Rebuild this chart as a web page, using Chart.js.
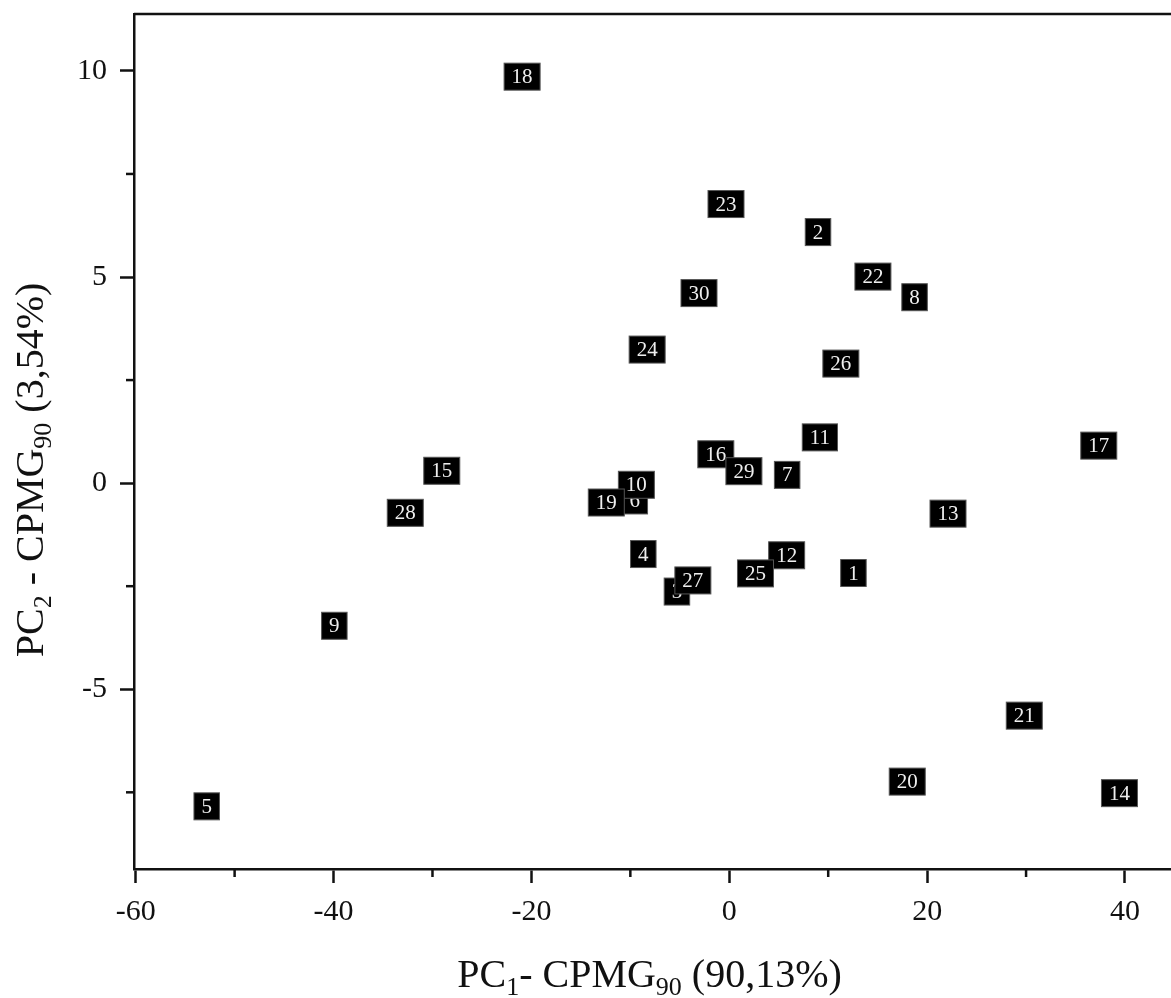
<!DOCTYPE html>
<html>
<head>
<meta charset="utf-8">
<script src="https://cdn.jsdelivr.net/npm/chart.js@4.4.1/dist/chart.umd.min.js"></script>
<style>
  html, body { margin: 0; padding: 0; background: #fff; overflow: hidden; }
  #wrap { width: 1171px; height: 998px; position: relative; }
</style>
</head>
<body>
<div id="wrap"><canvas id="pcaChart"></canvas></div>
<script>
// sample numbers and their PC1 / PC2 scores
const sampleIds = [1, 2, 3, 4, 5, 6, 7, 8, 9, 10, 11, 12, 13, 14, 15,
                   16, 17, 18, 19, 20, 21, 22, 23, 24, 25, 26, 27, 28, 29, 30];
const pc1Scores = [12.55, 8.97, -5.29, -8.69, -52.82, -9.55, 5.85, 18.73, -39.92, -9.39,
                   9.16, 5.80, 22.11, 39.44, -29.06, -1.36, 37.35, -20.94, -12.43, 17.99,
                   29.82, 14.52, -0.33, -8.30, 2.65, 11.28, -3.68, -32.75, 1.48, -3.06];
const pc2Scores = [-2.18, 6.09, -2.63, -1.72, -7.84, -0.42, 0.20, 4.51, -3.46, -0.04,
                   1.11, -1.75, -0.74, -7.52, 0.30, 0.70, 0.91, 9.86, -0.47, -7.24,
                   -5.64, 5.01, 6.77, 3.24, -2.19, 2.90, -2.36, -0.72, 0.29, 4.61];

const xTickValues = [-60, -50, -40, -30, -20, -10, 0, 10, 20, 30, 40];
const yTickValues = [-7.5, -5, -2.5, 0, 2.5, 5, 7.5, 10];
const xMajorStep = 20;
const yMajorStep = 5;

const serif = '"Liberation Serif", "Times New Roman", serif';

const points = sampleIds.map((id, i) => ({ x: pc1Scores[i], y: pc2Scores[i] }));

function isMajor(v, step) {
    return Math.abs(v / step - Math.round(v / step)) < 1e-6;
}

// text with subscripts: parts = [[text, isSub], ...]
function drawRichText(ctx, parts, size, subSize, subDrop) {
    let total = 0;
    parts.forEach(p => {
        ctx.font = (p[1] ? subSize : size) + 'px ' + serif;
        total += ctx.measureText(p[0]).width;
    });
    let x = -total / 2;
    parts.forEach(p => {
        ctx.font = (p[1] ? subSize : size) + 'px ' + serif;
        ctx.fillText(p[0], x, p[1] ? subDrop : 0);
        x += ctx.measureText(p[0]).width;
    });
}

const labelBoxes = {
    id: 'labelBoxes',
    afterDatasetsDraw(chart) {
        const ctx = chart.ctx;
        const area = chart.chartArea;
        const xs = chart.scales.x;
        const ys = chart.scales.y;
        ctx.save();

        // top frame line
        ctx.strokeStyle = '#111';
        ctx.lineWidth = 2.5;
        ctx.beginPath();
        ctx.moveTo(area.left, area.top);
        ctx.lineTo(area.right, area.top);
        ctx.stroke();

        // minor tick marks
        ctx.lineWidth = 2.5;
        xTickValues.filter(v => !isMajor(v, xMajorStep)).forEach(v => {
            const px = xs.getPixelForValue(v);
            ctx.beginPath();
            ctx.moveTo(px, area.bottom);
            ctx.lineTo(px, area.bottom + 8);
            ctx.stroke();
        });
        yTickValues.filter(v => !isMajor(v, yMajorStep)).forEach(v => {
            const py = ys.getPixelForValue(v);
            ctx.beginPath();
            ctx.moveTo(area.left, py);
            ctx.lineTo(area.left - 8, py);
            ctx.stroke();
        });

        // numbered boxes, drawn in sample order
        const meta = chart.getDatasetMeta(0);
        ctx.font = '21px ' + serif;
        ctx.textAlign = 'center';
        ctx.textBaseline = 'middle';
        meta.data.forEach((pt, i) => {
            const txt = String(sampleIds[i]);
            const w = ctx.measureText(txt).width + 15;
            const h = 27;
            ctx.fillStyle = '#000';
            ctx.fillRect(pt.x - w / 2, pt.y - h / 2, w, h);
            ctx.strokeStyle = '#555';
            ctx.lineWidth = 1;
            ctx.strokeRect(pt.x - w / 2, pt.y - h / 2, w, h);
            ctx.fillStyle = '#eee';
            ctx.fillText(txt, pt.x, pt.y + 1);
        });

        // axis titles
        ctx.fillStyle = '#111';
        ctx.textAlign = 'left';
        ctx.textBaseline = 'alphabetic';
        ctx.save();
        ctx.translate((area.left + area.right) / 2 - 3, 987);
        drawRichText(ctx, [['PC', false], ['1', true], ['- CPMG', false], ['90', true], [' (90,13%)', false]], 40, 26, 8);
        ctx.restore();

        ctx.save();
        ctx.translate(43, 470);
        ctx.rotate(-Math.PI / 2);
        drawRichText(ctx, [['PC', false], ['2', true], [' - CPMG', false], ['90', true], [' (3,54%)', false]], 40, 26, 8);
        ctx.restore();

        ctx.restore();
    }
};

const ctx = document.getElementById('pcaChart').getContext('2d');

const chart = new Chart(ctx, {
    type: 'scatter',
    data: {
        datasets: [{
            data: points,
            pointRadius: 0,
            pointHoverRadius: 0,
            showLine: false
        }]
    },
    options: {
        responsive: true,
        maintainAspectRatio: false,
        animation: false,
        events: [],
        layout: { padding: { top: 14, right: 0, left: 0, bottom: 0 } },
        plugins: {
            legend: { display: false },
            tooltip: { enabled: false }
        },
        scales: {
            x: {
                type: 'linear',
                min: -60.17,
                max: 44.65,
                afterBuildTicks: s => { s.ticks = xTickValues.map(v => ({ value: v })); },
                afterFit: s => { s.height = 129; s.paddingLeft = 0; s.paddingRight = 0; },
                ticks: {
                    autoSkip: false,
                    maxRotation: 0,
                    padding: 11,
                    color: '#111',
                    font: { family: serif, size: 30 },
                    callback: v => isMajor(v, xMajorStep) ? String(v) : ''
                },
                grid: {
                    drawOnChartArea: false,
                    drawTicks: true,
                    tickLength: 14,
                    tickWidth: 2.5,
                    tickColor: c => isMajor(c.tick.value, xMajorStep) ? '#111' : 'rgba(0,0,0,0)'
                },
                border: { display: true, color: '#111', width: 2.5 }
            },
            y: {
                type: 'linear',
                min: -9.36,
                max: 11.38,
                afterBuildTicks: s => { s.ticks = yTickValues.map(v => ({ value: v })); },
                afterFit: s => { s.width = 134; s.paddingTop = 0; s.paddingBottom = 0; },
                ticks: {
                    autoSkip: false,
                    padding: 13,
                    color: '#111',
                    font: { family: serif, size: 30 },
                    callback: v => isMajor(v, yMajorStep) ? String(v) : ''
                },
                grid: {
                    drawOnChartArea: false,
                    drawTicks: true,
                    tickLength: 14,
                    tickWidth: 2.5,
                    tickColor: c => isMajor(c.tick.value, yMajorStep) ? '#111' : 'rgba(0,0,0,0)'
                },
                border: { display: true, color: '#111', width: 2.5 }
            }
        }
    },
    plugins: [labelBoxes]
});
</script>
</body>
</html>
